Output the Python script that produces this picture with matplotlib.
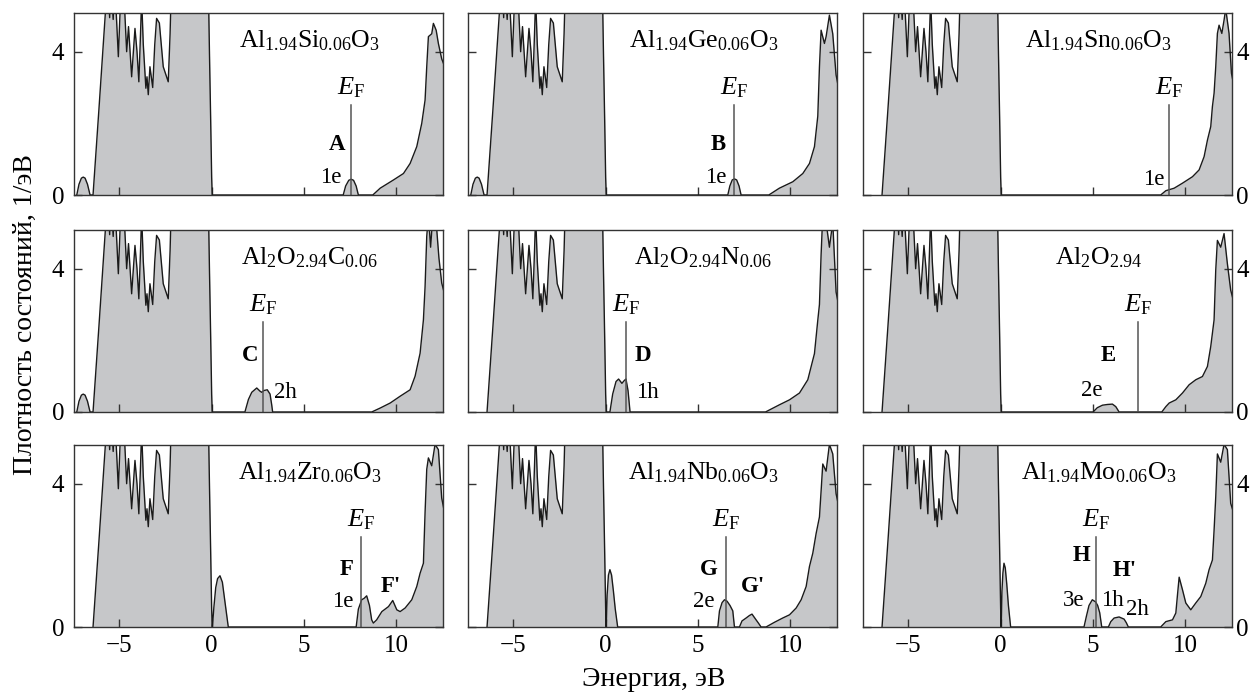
import numpy as np
import matplotlib
matplotlib.use('Agg')
import matplotlib.pyplot as plt

plt.rcParams['font.family'] = ['Liberation Serif', 'DejaVu Serif']
plt.rcParams['mathtext.fontset'] = 'custom'
plt.rcParams['mathtext.rm'] = 'Liberation Serif'
plt.rcParams['mathtext.it'] = 'Liberation Serif:italic'
plt.rcParams['mathtext.bf'] = 'Liberation Serif:bold'

# ---------------- data ----------------
# host valence band (same in all panels, clipped above 5)
vb_E = [-6.42, -6.10, -5.75, -5.65, -5.52, -5.45, -5.33, -5.25, -5.05, -4.92, -4.85,
        -4.72, -4.60, -4.50, -4.33, -4.15, -4.04, -3.94, -3.85, -3.79, -3.70, -3.56,
        -3.50, -3.43, -3.34, -3.19, -3.08, -2.98, -2.83, -2.62, -2.35, -2.25, -2.15,
        -0.20, -0.12, -0.05, 0.0, 0.03]
vb_dos = [0.0, 2.4, 5.1, 6.5, 4.95, 6.0, 4.9, 6.0, 3.86, 5.6, 6.0,
          5.3, 4.0, 4.7, 3.3, 4.65, 4.0, 3.16, 4.5, 5.5, 4.2, 2.98,
          3.3, 2.8, 3.58, 3.0, 4.2, 4.93, 4.8, 3.58, 3.16, 4.5, 6.5,
          6.5, 4.0, 2.0, 0.5, 0.0]

# satellite below the valence band (Si, Ge, C panels)
sat_E = [-7.30, -7.18, -7.05, -6.95, -6.85, -6.72, -6.58]
sat_dos = [0.0, 0.30, 0.47, 0.50, 0.47, 0.30, 0.0]

# Al1.94Si0.06O3
gap_si_E = [7.12, 7.25, 7.42, 7.55, 7.68, 7.82, 7.94]
gap_si_dos = [0.0, 0.25, 0.41, 0.44, 0.41, 0.25, 0.0]
cb_si_E = [8.72, 9.12, 9.84, 10.38, 10.74, 11.10, 11.37, 11.55, 11.64, 11.73, 11.91, 12.00, 12.15, 12.27, 12.45, 12.60]
cb_si_dos = [0.0, 0.19, 0.42, 0.60, 0.88, 1.35, 2.00, 2.65, 3.58, 4.42, 4.50, 4.79, 4.60, 4.23, 3.80, 3.60]

# Al1.94Ge0.06O3
gap_ge_E = [6.61, 6.72, 6.85, 6.97, 7.09, 7.22, 7.33]
gap_ge_dos = [0.0, 0.25, 0.42, 0.45, 0.42, 0.25, 0.0]
cb_ge_E = [8.83, 9.40, 10.13, 10.67, 11.03, 11.30, 11.48, 11.57, 11.66, 11.84, 11.93, 12.11, 12.29, 12.47, 12.60]
cb_ge_dos = [0.0, 0.19, 0.37, 0.60, 0.88, 1.35, 2.20, 3.58, 4.60, 4.23, 4.42, 5.02, 4.50, 3.35, 3.00]

# Al1.94Sn0.06O3
cb_sn_E = [8.66, 8.94, 9.39, 9.84, 10.38, 10.74, 11.01, 11.19, 11.37, 11.46, 11.55, 11.64,
           11.73, 11.82, 11.97, 12.09, 12.18, 12.36, 12.49, 12.60]
cb_sn_dos = [0.0, 0.12, 0.19, 0.33, 0.51, 0.70, 1.07, 1.53, 1.91, 2.47, 2.84, 3.58,
             4.51, 4.74, 4.51, 4.88, 5.20, 4.51, 3.40, 3.10]

# Al2O2.94C0.06
gap_c_E = [1.80, 1.99, 2.17, 2.44, 2.62, 2.71, 2.83, 3.01, 3.16, 3.25, 3.30]
gap_c_dos = [0.0, 0.35, 0.55, 0.67, 0.58, 0.55, 0.60, 0.62, 0.50, 0.20, 0.0]
cb_c_E = [8.66, 9.12, 9.66, 10.20, 10.74, 11.01, 11.28, 11.46, 11.55, 11.64, 11.73, 11.85, 11.97, 12.15, 12.30, 12.45, 12.60]
cb_c_dos = [0.0, 0.11, 0.25, 0.44, 0.62, 1.00, 1.64, 2.57, 3.50, 4.90, 5.50, 4.60, 5.50, 5.30, 4.30, 3.60, 3.30]

# Al2O2.94N0.06
gap_n_E = [0.23, 0.38, 0.56, 0.70, 0.88, 1.01, 1.10, 1.21, 1.32]
gap_n_dos = [0.0, 0.50, 0.85, 0.92, 0.80, 0.88, 0.92, 0.60, 0.0]
cb_n_E = [8.65, 9.40, 9.95, 10.49, 10.94, 11.21, 11.30, 11.48, 11.57, 11.66, 11.75, 11.93, 12.11, 12.29, 12.47, 12.60]
cb_n_dos = [0.0, 0.20, 0.34, 0.53, 0.90, 1.45, 1.63, 2.56, 3.00, 4.40, 5.50, 5.30, 4.60, 5.30, 3.35, 3.00]

# Al2O2.94
gap_v_E = [5.00, 5.23, 5.51, 5.78, 6.05, 6.23, 6.41]
gap_v_dos = [0.0, 0.12, 0.19, 0.21, 0.22, 0.15, 0.0]
cb_v_E = [8.72, 8.94, 9.12, 9.48, 9.84, 10.20, 10.56, 10.92, 11.19, 11.37, 11.55, 11.64, 11.73, 11.91, 12.09, 12.27, 12.45, 12.60]
cb_v_dos = [0.0, 0.15, 0.25, 0.34, 0.53, 0.76, 0.90, 0.99, 1.27, 1.83, 2.57, 3.96, 4.79, 4.60, 4.98, 4.14, 3.40, 3.10]

# Al1.94Zr0.06O3
low_zr_E = [0.04, 0.12, 0.22, 0.32, 0.45, 0.58, 0.72, 0.90]
low_zr_dos = [0.0, 0.55, 1.10, 1.35, 1.43, 1.25, 0.70, 0.0]
cb_zr_E = [7.82, 7.94, 8.12, 8.25, 8.39, 8.54, 8.66, 8.75, 8.93, 9.21, 9.57, 9.80, 10.02, 10.20,
           10.47, 10.83, 11.10, 11.28, 11.46, 11.55, 11.64, 11.73, 11.91, 12.09, 12.27, 12.45, 12.60]
cb_zr_dos = [0.0, 0.50, 0.76, 0.80, 0.87, 0.60, 0.20, 0.11, 0.20, 0.43, 0.57, 0.74, 0.48, 0.43,
             0.53, 0.76, 1.13, 1.50, 1.78, 3.20, 4.40, 4.72, 4.50, 5.10, 4.95, 3.60, 3.20]

# Al1.94Nb0.06O3
low_nb_E = [0.03, 0.08, 0.15, 0.23, 0.32, 0.42, 0.52, 0.65]
low_nb_dos = [0.0, 0.90, 1.45, 1.60, 1.45, 1.00, 0.50, 0.0]
gap_nb_E = [6.07, 6.16, 6.30, 6.43, 6.57, 6.73, 6.88, 6.97]
gap_nb_dos = [0.0, 0.45, 0.68, 0.76, 0.72, 0.60, 0.45, 0.0]
gap2_nb_E = [7.24, 7.38, 7.60, 7.78, 7.92, 8.14, 8.28, 8.41]
gap2_nb_dos = [0.0, 0.17, 0.25, 0.32, 0.36, 0.20, 0.10, 0.0]
cb_nb_E = [8.68, 9.13, 9.58, 9.95, 10.31, 10.58, 10.85, 11.03, 11.21, 11.39, 11.57, 11.66,
           11.75, 11.93, 12.11, 12.29, 12.47, 12.60]
cb_nb_dos = [0.0, 0.13, 0.25, 0.34, 0.53, 0.76, 1.13, 1.69, 2.06, 2.61, 3.07, 3.80,
             4.55, 4.35, 5.10, 4.83, 3.72, 3.40]

# Al1.94Mo0.06O3
low_mo_E = [0.03, 0.07, 0.12, 0.18, 0.25, 0.33, 0.42, 0.54]
low_mo_dos = [0.0, 1.00, 1.50, 1.78, 1.65, 1.20, 0.60, 0.0]
gap_mo_E = [4.51, 4.64, 4.78, 4.96, 5.14, 5.25, 5.36, 5.47]
gap_mo_dos = [0.0, 0.30, 0.60, 0.76, 0.70, 0.60, 0.40, 0.0]
gap2_mo_E = [5.83, 5.96, 6.14, 6.41, 6.68, 6.80, 6.91]
gap2_mo_dos = [0.0, 0.15, 0.25, 0.28, 0.22, 0.12, 0.0]
cb_mo_E = [8.66, 8.94, 9.30, 9.48, 9.57, 9.66, 9.84, 10.02, 10.29, 10.56, 10.83, 11.10, 11.28,
           11.46, 11.55, 11.64, 11.73, 11.91, 12.09, 12.27, 12.45, 12.60]
cb_mo_dos = [0.0, 0.15, 0.20, 0.39, 0.90, 1.39, 1.04, 0.67, 0.48, 0.67, 0.85, 1.22, 1.60,
             1.87, 2.70, 3.63, 4.83, 4.60, 5.10, 4.95, 3.45, 3.20]

compounds = [r'$\mathrm{Al}_{1.94}\mathrm{Si}_{0.06}\mathrm{O}_{3}$',
             r'$\mathrm{Al}_{1.94}\mathrm{Ge}_{0.06}\mathrm{O}_{3}$',
             r'$\mathrm{Al}_{1.94}\mathrm{Sn}_{0.06}\mathrm{O}_{3}$',
             r'$\mathrm{Al}_{2}\mathrm{O}_{2.94}\mathrm{C}_{0.06}$',
             r'$\mathrm{Al}_{2}\mathrm{O}_{2.94}\mathrm{N}_{0.06}$',
             r'$\mathrm{Al}_{2}\mathrm{O}_{2.94}$',
             r'$\mathrm{Al}_{1.94}\mathrm{Zr}_{0.06}\mathrm{O}_{3}$',
             r'$\mathrm{Al}_{1.94}\mathrm{Nb}_{0.06}\mathrm{O}_{3}$',
             r'$\mathrm{Al}_{1.94}\mathrm{Mo}_{0.06}\mathrm{O}_{3}$']
fermi = [7.55, 6.97, 9.12, 2.80, 1.10, 7.45, 8.09, 6.52, 5.18]
x_ticks = [-5, 0, 5, 10]
x_tick_labels = ['\u22125', '0', '5', '10']
y_ticks = [0, 4]

# ---------------- assemble panels ----------------
V = (vb_E, vb_dos)
S = (sat_E, sat_dos)
segments = [
    [S, V, (gap_si_E, gap_si_dos), (cb_si_E, cb_si_dos)],
    [S, V, (gap_ge_E, gap_ge_dos), (cb_ge_E, cb_ge_dos)],
    [V, (cb_sn_E, cb_sn_dos)],
    [S, V, (gap_c_E, gap_c_dos), (cb_c_E, cb_c_dos)],
    [V, (gap_n_E, gap_n_dos), (cb_n_E, cb_n_dos)],
    [V, (gap_v_E, gap_v_dos), (cb_v_E, cb_v_dos)],
    [V, (low_zr_E, low_zr_dos), (cb_zr_E, cb_zr_dos)],
    [V, (low_nb_E, low_nb_dos), (gap_nb_E, gap_nb_dos), (gap2_nb_E, gap2_nb_dos), (cb_nb_E, cb_nb_dos)],
    [V, (low_mo_E, low_mo_dos), (gap_mo_E, gap_mo_dos), (gap2_mo_E, gap2_mo_dos), (cb_mo_E, cb_mo_dos)],
]

# annotations: (text, x, y, ha, bold)
notes = [
    [('A', 7.22, 1.26, 'right', True), ('1e', 7.04, 0.33, 'right', False)],
    [('B', 6.52, 1.26, 'right', True), ('1e', 6.52, 0.33, 'right', False)],
    [('1e', 8.84, 0.28, 'right', False)],
    [('C', 2.53, 1.41, 'right', True), ('2h', 3.38, 0.39, 'left', False)],
    [('D', 1.55, 1.41, 'left', True), ('1h', 1.64, 0.39, 'left', False)],
    [('E', 5.81, 1.41, 'center', True), ('2e', 4.91, 0.44, 'center', False)],
    [('F', 7.67, 1.44, 'right', True), ('1e', 7.67, 0.57, 'right', False), ("F'", 9.12, 0.99, 'left', True)],
    [('G', 6.07, 1.44, 'right', True), ('2e', 5.88, 0.57, 'right', False), ("G'", 7.33, 0.99, 'left', True)],
    [('H', 4.87, 1.83, 'right', True), ("H'", 6.05, 1.41, 'left', True), ('3e', 4.51, 0.59, 'right', False),
     ('1h', 5.42, 0.59, 'left', False), ('2h', 6.80, 0.34, 'left', False)],
]

W, H = 1257, 693
fig = plt.figure(figsize=(W / 100, H / 100), dpi=100)
col_left = [74, 468, 863]
row_top = [13, 230, 445]
aw, ah = 369, 182
fill_col = '#c6c7c9'
spine_col = '#333333'

for i in range(9):
    r, c = divmod(i, 3)
    ax = fig.add_axes([col_left[c] / W, (H - row_top[r] - ah) / H, aw / W, ah / H])
    E = np.concatenate([np.asarray(s[0], float) for s in segments[i]])
    D = np.concatenate([np.asarray(s[1], float) for s in segments[i]])
    ax.fill_between(E, 0, D, color=fill_col, lw=0)
    ax.plot(E, D, color='#1a1a1a', lw=1.0)
    ax.set_xlim(-7.45, 12.52)
    ax.set_ylim(0, 5.08)
    ax.set_xticks(x_ticks)
    ax.set_xticklabels(x_tick_labels)
    ax.set_yticks(y_ticks)
    for sp in ax.spines.values():
        sp.set_color(spine_col)
        sp.set_linewidth(1.0)
    ax.tick_params(axis='both', direction='in', length=6, width=1.0, color=spine_col,
                   labelsize=18)
    ax.tick_params(axis='x', top=False, bottom=True, labelbottom=(r == 2), pad=6)
    ax.tick_params(axis='y', left=True, right=True, labelleft=(c == 0),
                   labelright=(c == 2), pad=(3 if c == 2 else 7))

    # compound label
    ax.text(5.3, 4.12, compounds[i], fontsize=18.5, ha='center', va='baseline')
    # Fermi level
    ef = fermi[i]
    ax.plot([ef, ef], [0, 2.5], color='#555555', lw=1.1)
    ax.text(ef, 2.8, r'$E_{\mathrm{F}}$', fontsize=19, ha='center', va='baseline')
    for (t, x, y, ha, b) in notes[i]:
        ax.text(x, y, t, fontsize=16.5, ha=ha, va='baseline',
                fontweight='bold' if b else 'normal')

fig.text(654 / W, 1 - 680 / H, 'Энергия, эВ', fontsize=20, ha='center', va='center')
fig.text(25 / W, 1 - 315 / H, 'Плотность состояний, 1/эВ', fontsize=20, ha='center',
         va='center', rotation=90)

fig.savefig('out.png', dpi=100)
